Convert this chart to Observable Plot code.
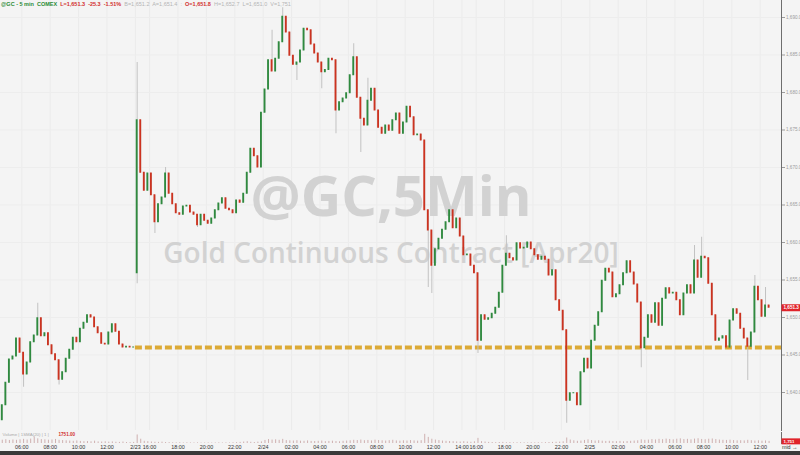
<!DOCTYPE html>
<html><head><meta charset="utf-8">
<script src="https://cdn.jsdelivr.net/npm/d3@7"></script>
<script src="https://cdn.jsdelivr.net/npm/@observablehq/plot@0.6"></script>
<style>
html,body{margin:0;padding:0;background:#f4f4f4;}
#wrap{position:relative;width:800px;height:455px;overflow:hidden;background:#f4f4f4;font-family:"Liberation Sans",Arial,sans-serif;}
#wrap svg{display:block;}
#hdr{position:absolute;left:1px;top:1px;font-size:5.5px;line-height:7px;white-space:pre;color:#b5b5b5;z-index:2;}
#hdr .g{color:#2a8a35;font-weight:bold}
#hdr .r{color:#d22f2f;font-weight:bold}
#band{height:4px;background:#3a3a3a;}
</style></head><body>
<div id="wrap">
  <div id="hdr"><span class="g">@GC - 5 min  COMEX</span>  <span class="r">L=1,651.3  -25.3  -1.51%</span>  B=1,651.2  A=1,651.4  :  <span class="r">O=1,651.8</span>  H=1,652.7  L=1,651.0  V=1,751</div>
  <div id="price"></div>
  <div id="vol"></div>
  <div id="band"></div>
</div>
<script>
// ---- data ----
// 15-minute closes, trading-time order (Feb 21 04:30 PT .. Feb 25 12:45 PT)
const closes = [
 1638.3,1641.3,1644.4,1644.8,1647.2,1645.3,1642.4,1644.0,1646.7,1647.6,
 1649.9,1647.5,1647.9,1646.3,1645.1,1644.3,1641.7,1642.7,1644.5,1645.7,
 1647.3,1646.7,1648.5,1649.3,1650.3,1650.0,1648.7,1647.9,1646.5,1646.4,
 1648.0,1649.1,1648.1,1646.4,1646.0,1646.1,1646.0,1646.0,
 1676.3,1669.3,1666.9,1669.2,1666.3,1662.7,1665.1,1666.0,1669.2,1666.5,
 1665.1,1663.9,1663.7,1664.8,1664.9,1664.0,1663.7,1662.3,1663.7,1662.9,
 1662.5,1663.2,1664.3,1665.2,1665.9,1664.5,1664.3,1663.9,1665.6,1665.3,
 1666.5,1669.3,1672.5,1671.5,1670.0,1677.3,1680.4,1684.3,1682.8,1684.5,
 1686.7,1690.1,1688.0,1684.9,1683.7,1684.0,1685.6,1688.5,1688.3,1686.4,
 1685.2,1684.0,1682.7,1683.0,1684.5,1684.3,1677.6,1678.7,1679.2,1679.9,
 1682.3,1684.7,1679.3,1676.5,1675.6,1678.9,1680.5,1677.6,1675.3,1674.5,
 1675.6,1674.9,1676.3,1677.2,1674.5,1676.0,1678.1,1676.7,1674.3,1674.4,
 1673.6,1664.3,1661.6,1656.9,1659.1,1660.5,1661.7,1662.7,1664.3,1661.9,
 1663.2,1660.8,
 1658.3,1658.4,1656.9,1655.9,1646.9,1650.3,1649.7,1649.9,1650.5,1651.3,
 1653.3,1656.9,1658.5,1657.9,1657.6,1659.9,1659.2,1659.3,1660.0,1659.1,
 1658.3,1657.7,1658.1,1657.7,1655.6,1656.3,1652.3,1650.9,1648.3,1638.9,
 1639.9,1639.9,1638.3,1642.7,1644.5,1643.2,1646.9,1648.9,1650.7,1654.9,
 1656.5,1656.0,1652.7,1653.1,1654.3,1655.9,1657.5,1656.0,1654.4,1652.0,
 1645.9,1647.3,1650.3,1649.3,1651.9,1648.9,1652.5,1653.9,1653.2,1653.3,
 1652.3,1650.3,1653.2,1654.3,1653.2,1657.6,1655.3,1658.1,1657.9,1654.5,
 1650.3,1646.9,1647.2,1647.5,1646.0,1649.6,1651.1,1650.5,1648.5,1647.2,
 1646.1,1648.0,1654.1,1652.3,1650.1,1651.6,1651.3
];
// session first bars and their opening prices
const sessionStartBars = [0, 38, 130];
const sessionOpens = [1636.3, 1655.9, 1660.8];
// notable wick extremes [bar, price]
const wickHighs = [[10,1651.9],[38,1684.0],[46,1670.0],[76,1688.3],[79,1691.3],[99,1686.5],[103,1681.9],[142,1660.9],[195,1659.6],[197,1660.7],[212,1655.6],[215,1654.0]];
const wickLows = [[6,1640.7],[16,1641.0],[38,1654.5],[43,1661.2],[55,1662.0],[83,1681.6],[90,1680.5],[94,1674.5],[101,1672.0],[120,1654.0],[121,1653.2],[134,1645.2],[159,1635.9],[180,1643.3],[210,1641.6]];
// volume per bar (contracts)
const volumes = [
 2700,3100,2500,2900,2600,3000,3400,2800,3600,5400,
 3800,3200,3000,2700,2900,3300,2600,2400,2200,2000,
 1800,2100,1700,1500,1600,1400,1900,1300,1200,1400,
 1100,1300,1000,900,1200,800,700,900,
 7000,3500,1800,1500,1200,1000,900,1100,
 800,700,600,500,600,400,500,450,400,500,350,400,450,380,420,500,400,450,380,600,700,900,1200,1500,1000,800,1100,1300,
 2500,3200,2800,3000,2600,3400,2400,2200,2000,2300,1900,1800,2100,1700,1600,1800,2000,1500,1700,1900,1600,1400,1800,2000,
 2200,2600,2400,2800,2300,2500,2100,2700,2400,2200,2000,2300,2600,2100,1900,2200,2000,2400,2100,1900,2300,
 7500,5000,3500,
 2800,2400,2000,1800,1600,1500,1300,1200,
 1500,1200,1000,1400,
 4200,
 1500,1200,900,800,700,800,900,600,700,500,600,550,500,450,600,500,550,600,700,800,900,1000,1100,1400,
 4500,
 2800,2200,1800,2000,2500,3000,
 2400,2000,2300,1900,1700,1800,1600,1500,1700,1400,1600,1800,2000,2200,3000,2600,
 2800,3200,2900,3400,3100,3600,3300,3000,3500,3800,3200,3400,3000,3600,3900,3300,3100,3500,3700,3200,
 2800,2600,2500,2700,2400,2200,2300,2100,2600,2300,2000,2200,1900,2100,1751
];
const priceTicks = [1640,1645,1650,1655,1660,1665,1670,1675,1680,1685,1690];
// tick positions in trading hours since Feb 21 04:30 PT
const tickHours = [1.5,3.5,5.5,7.5,9.5,10.5,12.5,14.5,16.5,18.5,20.5,22.5,24.5,26.5,28.5,30.5,32.5,33.5,35.5,37.5,39.5,41.5,43.5,45.5,47.5,49.5,51.5,53.5];
const tickLabels = ["06:00","08:00","10:00","12:00","2/23","16:00","18:00","20:00","22:00","2/24","02:00","04:00","06:00","08:00","10:00","12:00","14:00","16:00","18:00","20:00","22:00","2/25","02:00","04:00","06:00","08:00","10:00","12:00"];
const lastPrice = 1651.3;
const priorClose = 1646.0;
const lastVolume = 1751;
const watermark = ["@GC,5Min", "Gold Continuous Contract [Apr20]"];
const hoursPerBar = 0.25;
const xEnd = 55;

// ---- build bars ----
const hiMap = new Map(wickHighs), loMap = new Map(wickLows);
const bars = closes.map((c, i) => {
  const s = sessionStartBars.indexOf(i);
  const open = s >= 0 ? sessionOpens[s] : closes[i - 1];
  const high = Math.max(open, c, hiMap.get(i) ?? -Infinity);
  const low = Math.min(open, c, loMap.get(i) ?? Infinity);
  const t = i * hoursPerBar;
  return {i, t, mid: t + hoursPerBar / 2, open, close: c, high, low, volume: volumes[i]};
});
const labelOf = new Map(tickHours.map((h, k) => [h, tickLabels[k]]));
const fmt = d3.format(",.1f");
const tag = (w, h) => ({draw(ctx) { ctx.rect(0, -h / 2, w, h); }});

const price = Plot.plot({
  width: 800, height: 430,
  marginTop: 0, marginLeft: 0, marginRight: 19, marginBottom: 0,
  style: {background: "transparent", fontFamily: "Liberation Sans, Arial, sans-serif", overflow: "visible"},
  x: {domain: [0, xEnd], axis: null},
  y: {domain: [1640, 1690], range: [392, 17], axis: null},
  marks: [
    Plot.ruleX(tickHours, {stroke: "#ebebeb", strokeWidth: 1}),
    Plot.ruleY(priceTicks, {stroke: "#ededed", strokeWidth: 1}),
    Plot.text([watermark[0]], {frameAnchor: "middle", dy: -17, fontSize: 56, fontWeight: "bold", fill: "#d2d2d2", fontFamily: "Open Sans, sans-serif"}),
    Plot.text([watermark[1]], {frameAnchor: "middle", dy: 39, fontSize: 28, fontWeight: 600, fill: "#d2d2d2", fontFamily: "Open Sans, sans-serif"}),
    Plot.ruleY([priorClose], {x1: sessionStartBars[1] * hoursPerBar, x2: xEnd, stroke: "#dcaa36", strokeWidth: 4, strokeDasharray: "7,3"}),
    Plot.ruleX(bars, {x: "mid", y1: "low", y2: "high", stroke: "#c2c2c2", strokeWidth: 1}),
    Plot.rect(bars, {x1: d => d.t + 0.06, x2: d => d.t + 0.19, y1: "open", y2: "close",
      fill: d => d.close >= d.open ? "#2f8a3f" : "#cc3320", insetTop: -0.5, insetBottom: -0.5}),
    Plot.frame({anchor: "right", stroke: "#6e6e6e"}),
    Plot.axisY(priceTicks, {anchor: "right", tickSize: 3, tickPadding: 1.5, fontSize: 4.6, tickFormat: fmt, color: "#9b9b9b"}),
    Plot.dot([lastPrice], {x: () => xEnd, y: d => d, symbol: tag(19, 7), r: 3, fill: "#e0242b", stroke: "none"}),
    Plot.text([lastPrice], {x: () => xEnd, y: d => d, text: d => fmt(d), textAnchor: "start", dx: 2, fontSize: 4.6, fontWeight: "bold", fill: "white"})
  ]
});
document.getElementById("price").appendChild(price);

const vol = Plot.plot({
  width: 800, height: 21,
  marginTop: 2, marginLeft: 0, marginRight: 19, marginBottom: 8,
  style: {background: "transparent", fontFamily: "Liberation Sans, Arial, sans-serif", overflow: "visible"},
  x: {domain: [0, xEnd], axis: null},
  y: {domain: [0, 9000], axis: null},
  marks: [
    Plot.ruleX(bars, {x: "mid", y1: 0, y2: "volume", stroke: "#cfb0b0", strokeWidth: 1}),
    Plot.frame({anchor: "right", stroke: "#6e6e6e"}),
    Plot.axisX(tickHours, {anchor: "bottom", tickSize: 0, tickPadding: 2, fontSize: 5.4, tickFormat: d => labelOf.get(d), color: "#333"}),
    Plot.text(["Volume | 1SMA(20) | 1 |"], {frameAnchor: "top-left", dx: 2, dy: 0, fontSize: 4.4, fill: "#aaa"}),
    Plot.text([lastVolume], {frameAnchor: "top-left", text: d => d3.format(".2f")(d), dx: 58, dy: 0, fontSize: 4.6, fontWeight: "bold", fill: "#d22f2f"}),
    Plot.dot([lastVolume], {x: () => xEnd, y: d => d, symbol: tag(19, 6), r: 3, fill: "#e0242b", stroke: "none"}),
    Plot.text([lastVolume], {x: () => xEnd, y: d => d, text: d => d3.format(",")(d), textAnchor: "start", dx: 2, fontSize: 4.4, fontWeight: "bold", fill: "white"})
  ]
});
document.getElementById("vol").appendChild(vol);
</script>
</body></html>
